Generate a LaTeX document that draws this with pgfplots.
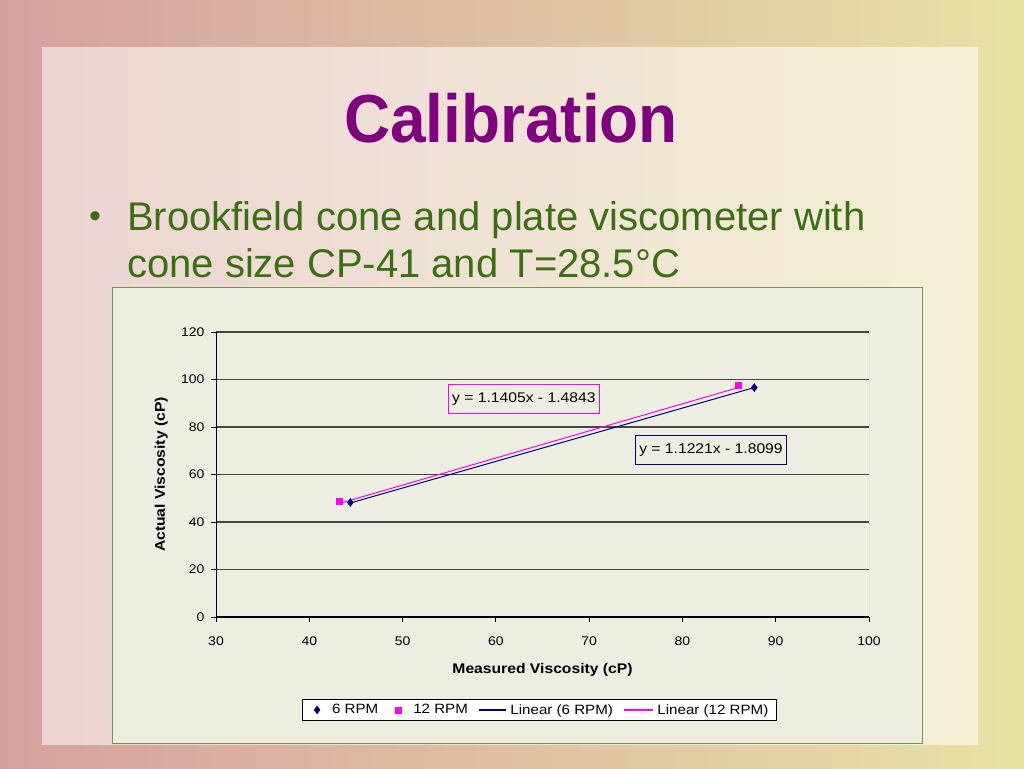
\documentclass[border=0pt]{standalone}
\usepackage{fontspec}
\setmainfont{Liberation Sans}
\newfontfamily\chartfont[FakeStretch=1.12]{Liberation Sans}
\usepackage{pgfplots}
\pgfplotsset{compat=1.18}

\definecolor{slpink}{RGB}{214,160,160}
\definecolor{slolive}{RGB}{205,210,165}
\definecolor{slyellow}{RGB}{232,226,165}
\definecolor{titlepurple}{RGB}{128,0,128}
\definecolor{bulletgreen}{RGB}{60,110,20}
\definecolor{chartbg}{RGB}{238,238,224}
\definecolor{chartborder}{RGB}{125,145,85}
\definecolor{rpmnavy}{RGB}{0,0,128}
\definecolor{rpmpink}{RGB}{255,0,255}
\definecolor{gridgray}{RGB}{70,70,70}

\begin{document}
\begin{tikzpicture}[x=1pt,y=1pt]
\useasboundingbox (0,0) rectangle (1024,768);
% slide background
\shade[left color=slpink, middle color=slolive, right color=slyellow] (0,0) rectangle (1024,768);
\fill[white, opacity=0.55] (42,23) rectangle (978,721);

% title and bullet
\node[anchor=base, inner sep=0pt, xscale=0.94, font=\fontsize{68}{68}\selectfont\bfseries, text=titlepurple] at (511,625) {Calibration};
\node[font=\fontsize{34}{34}\selectfont, text=bulletgreen] at (95,548) {\textbullet};
\node[anchor=base west, inner sep=0pt, font=\fontsize{40}{40}\selectfont, text=bulletgreen] at (127,537) {Brookfield cone and plate viscometer with};
\node[anchor=base west, inner sep=0pt, font=\fontsize{40}{40}\selectfont, text=bulletgreen] at (127,490) {cone size CP-41 and T=28.5°C};

% chart area
\filldraw[fill=chartbg, draw=chartborder, line width=1pt] (112,25) rectangle (922,480);

\begin{axis}[
    at={(216pt,151pt)}, anchor=south west,
    width=653pt, height=285pt, scale only axis,
    xmin=30, xmax=100, ymin=0, ymax=120,
    xtick={30,40,...,100}, ytick={0,20,...,120},
    tick align=outside, major tick length=5pt,
    tick style={black, line width=0.8pt},
    ymajorgrids, grid style={gridgray, line width=1.5pt},
    axis line style={gray},
    axis x line*=bottom, axis y line*=left,
    ticklabel style={font=\chartfont\fontsize{12.5}{12.5}\selectfont},
    xticklabel style={yshift=-11pt},
    yticklabel style={xshift=-3pt},
    /pgf/number format/assume math mode=true,
    xlabel={\textbf{Measured Viscosity (cP)}},
    ylabel={\textbf{Actual Viscosity (cP)}},
    label style={font=\chartfont\fontsize{14}{14}\selectfont},
    xlabel style={at={(axis description cs:0.5,-0.185)}, anchor=center},
    ylabel style={at={(axis description cs:-0.084,0.5)}, anchor=center},
    legend columns=4,
    legend style={name=leg, at={(0.495,-0.326)}, anchor=center, draw=none, fill=white,
        font=\chartfont\fontsize{13.5}{13.5}\selectfont, inner xsep=6pt, inner ysep=3pt,
        /tikz/every even column/.append style={column sep=9pt}},
    legend cell align=left,
]
\draw[black, line width=1.2pt] (axis cs:30,0) -- (axis cs:100,0);
\draw[black, line width=1.2pt] (axis cs:30,0) -- (axis cs:30,120);
\draw[gray, line width=0.6pt] (axis cs:100,0) -- (axis cs:100,120);

\addplot[only marks, mark=diamond*, mark size=4pt, color=rpmnavy,
    legend image code/.code={\path[draw=none] (0pt,0pt) -- (22pt,0pt);
        \fill[rpmnavy] (9pt,-4pt) -- (12pt,0pt) -- (9pt,4pt) -- (6pt,0pt) -- cycle;}] coordinates {
    (44.4, 48.2)
    (87.7, 96.6)
};
\addlegendentry{6 RPM}
\addplot[only marks, mark=square*, mark size=3pt, color=rpmpink,
    legend image code/.code={\path[draw=none] (0pt,0pt) -- (22pt,0pt);
        \fill[rpmpink] (6pt,-3pt) rectangle (12pt,3pt);}] coordinates {
    (43.2, 48.7)
    (86.0, 97.5)
};
\addlegendentry{12 RPM}
\addplot[rpmnavy, line width=1pt,
    legend image code/.code={\path[draw=none] (0pt,0pt) -- (29pt,0pt);
        \fill[rpmnavy] (0pt,-0.55pt) rectangle (26pt,0.55pt);}] coordinates {
    (44.4, 48.01)
    (87.7, 96.60)
};
\addlegendentry{Linear (6 RPM)}
\addplot[rpmpink, line width=1pt,
    legend image code/.code={\path[draw=none] (0pt,0pt) -- (31pt,0pt);
        \fill[rpmpink] (0pt,-0.55pt) rectangle (28pt,0.55pt);}] coordinates {
    (43.2, 47.78)
    (86.0, 96.60)
};
\addlegendentry{Linear (12 RPM)}

\node[draw=rpmpink, fill=chartbg, line width=1pt, inner xsep=3.5pt, inner ysep=8pt,
    font=\chartfont\fontsize{14}{14}\selectfont] at (axis cs:63.0,91.8) {y = 1.1405x - 1.4843};
\node[draw=rpmnavy, fill=chartbg, line width=1pt, inner xsep=3.5pt, inner ysep=8pt,
    font=\chartfont\fontsize{14}{14}\selectfont] at (axis cs:83.06,70.3) {y = 1.1221x - 1.8099};
\end{axis}
\draw[black, line width=0.8pt] (leg.south west) rectangle (leg.north east);
\end{tikzpicture}
\end{document}
